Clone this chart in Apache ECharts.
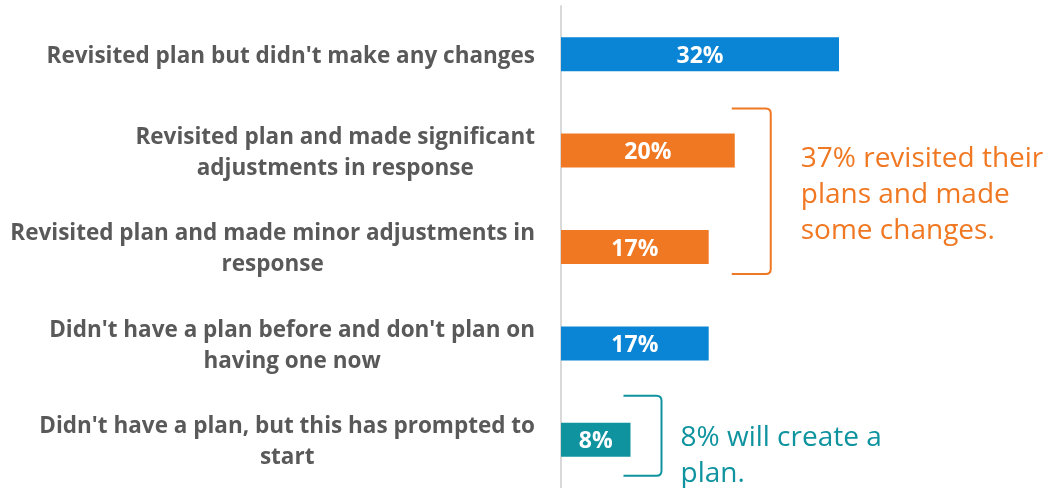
<!DOCTYPE html>
<html>
<head>
<meta charset="utf-8">
<script src="https://cdn.jsdelivr.net/npm/echarts@6/dist/echarts.min.js"></script>
<style>
  html, body { margin: 0; padding: 0; background: #ffffff; }
  #chart { width: 1058px; height: 488px; }
</style>
</head>
<body>
<div id="chart"></div>
<script>
// Survey responses: how people reacted to their plan
const categories = [
  "Revisited plan but didn't make any changes",
  "Revisited plan and made significant\nadjustments in response",
  "Revisited plan and made minor adjustments in\nresponse",
  "Didn't have a plan before and don't plan on\nhaving one now",
  "Didn't have a plan, but this has prompted to\nstart"
];
const values = [32, 20, 17, 17, 8];
const groups = ['unchanged', 'changed', 'changed', 'unchanged', 'new'];

// Callouts: category index range covered by each bracket, and its text
const noteRanges = [[1, 2], [4, 4]];
const noteGroups = ['changed', 'new'];
const noteTexts = [
  '37% revisited their\nplans and made\nsome changes.',
  '8% will create a\nplan.'
];

// Styling
const palette = { unchanged: '#0A84D4', changed: '#F07822', new: '#0E939F' };
// pixel layout of each bracket relative to the bars it groups
const noteLayout = [
  { dxLeft: -3, width: 39, padTop: 42, padBottom: 27, textGap: 30, textDy: 4 },
  { dxLeft: -7, width: 38, padTop: 44, padBottom: 36, textGap: 19, textDy: 20 }
];

const chart = echarts.init(document.getElementById('chart'), null, { renderer: 'canvas' });

chart.setOption({
  animation: false,
  backgroundColor: '#ffffff',
  grid: { left: 561, right: 149.5, top: 6, bottom: 0, containLabel: false },
  xAxis: {
    type: 'value', min: 0, max: 40,
    show: false
  },
  yAxis: {
    type: 'category',
    inverse: true,
    data: categories,
    axisLine: { show: true, lineStyle: { color: '#d9d9d9', width: 2 } },
    axisTick: { show: false },
    axisLabel: {
      margin: 26,
      align: 'right',
      // every line centred inside a right-aligned block
      formatter: v => v.split('\n').map(s => '{c|' + s + '}').join('\n'),
      rich: {
        c: {
          align: 'center',
          color: '#595959',
          fontFamily: 'Open Sans',
          fontWeight: 'bold',
          fontSize: 22.5,
          lineHeight: 31,
          padding: [5, 0, 0, 0]
        }
      }
    }
  },
  series: [
    {
      type: 'bar',
      barWidth: 34,
      data: values.map((v, i) => ({ value: v, itemStyle: { color: palette[groups[i]] } })),
      label: {
        show: true,
        position: 'inside',
        offset: [0, 2],
        formatter: p => p.value + '%',
        color: '#ffffff',
        fontFamily: 'Open Sans',
        fontWeight: 'bold',
        fontSize: 23
      }
    },
    {
      type: 'custom',
      clip: false,
      silent: true,
      data: noteRanges.map((r, i) => [i, r[0], r[1]]),
      encode: { x: -1, y: -1 },
      renderItem: function (params, api) {
        const idx = api.value(0);
        const from = api.value(1), to = api.value(2);
        const lay = noteLayout[idx];
        const color = palette[noteGroups[idx]];
        let maxVal = 0;
        for (let k = from; k <= to; k++) maxVal = Math.max(maxVal, values[k]);
        const top = api.coord([0, from])[1] - lay.padTop;
        const bottom = api.coord([0, to])[1] + lay.padBottom;
        const left = api.coord([maxVal, from])[0] + lay.dxLeft;
        const right = left + lay.width;
        const r = 5;
        const path =
          'M' + left + ' ' + top +
          ' L' + (right - r) + ' ' + top +
          ' Q' + right + ' ' + top + ' ' + right + ' ' + (top + r) +
          ' L' + right + ' ' + (bottom - r) +
          ' Q' + right + ' ' + bottom + ' ' + (right - r) + ' ' + bottom +
          ' L' + left + ' ' + bottom;
        return {
          type: 'group',
          children: [
            {
              type: 'path',
              shape: { pathData: path },
              style: { fill: null, stroke: color, lineWidth: 2 }
            },
            {
              type: 'text',
              x: right + lay.textGap,
              y: (top + bottom) / 2 + lay.textDy,
              style: {
                text: noteTexts[idx],
                fill: color,
                font: '28px "Open Sans"',
                lineHeight: 36,
                align: 'left',
                verticalAlign: 'middle'
              }
            }
          ]
        };
      }
    }
  ]
});
</script>
</body>
</html>
